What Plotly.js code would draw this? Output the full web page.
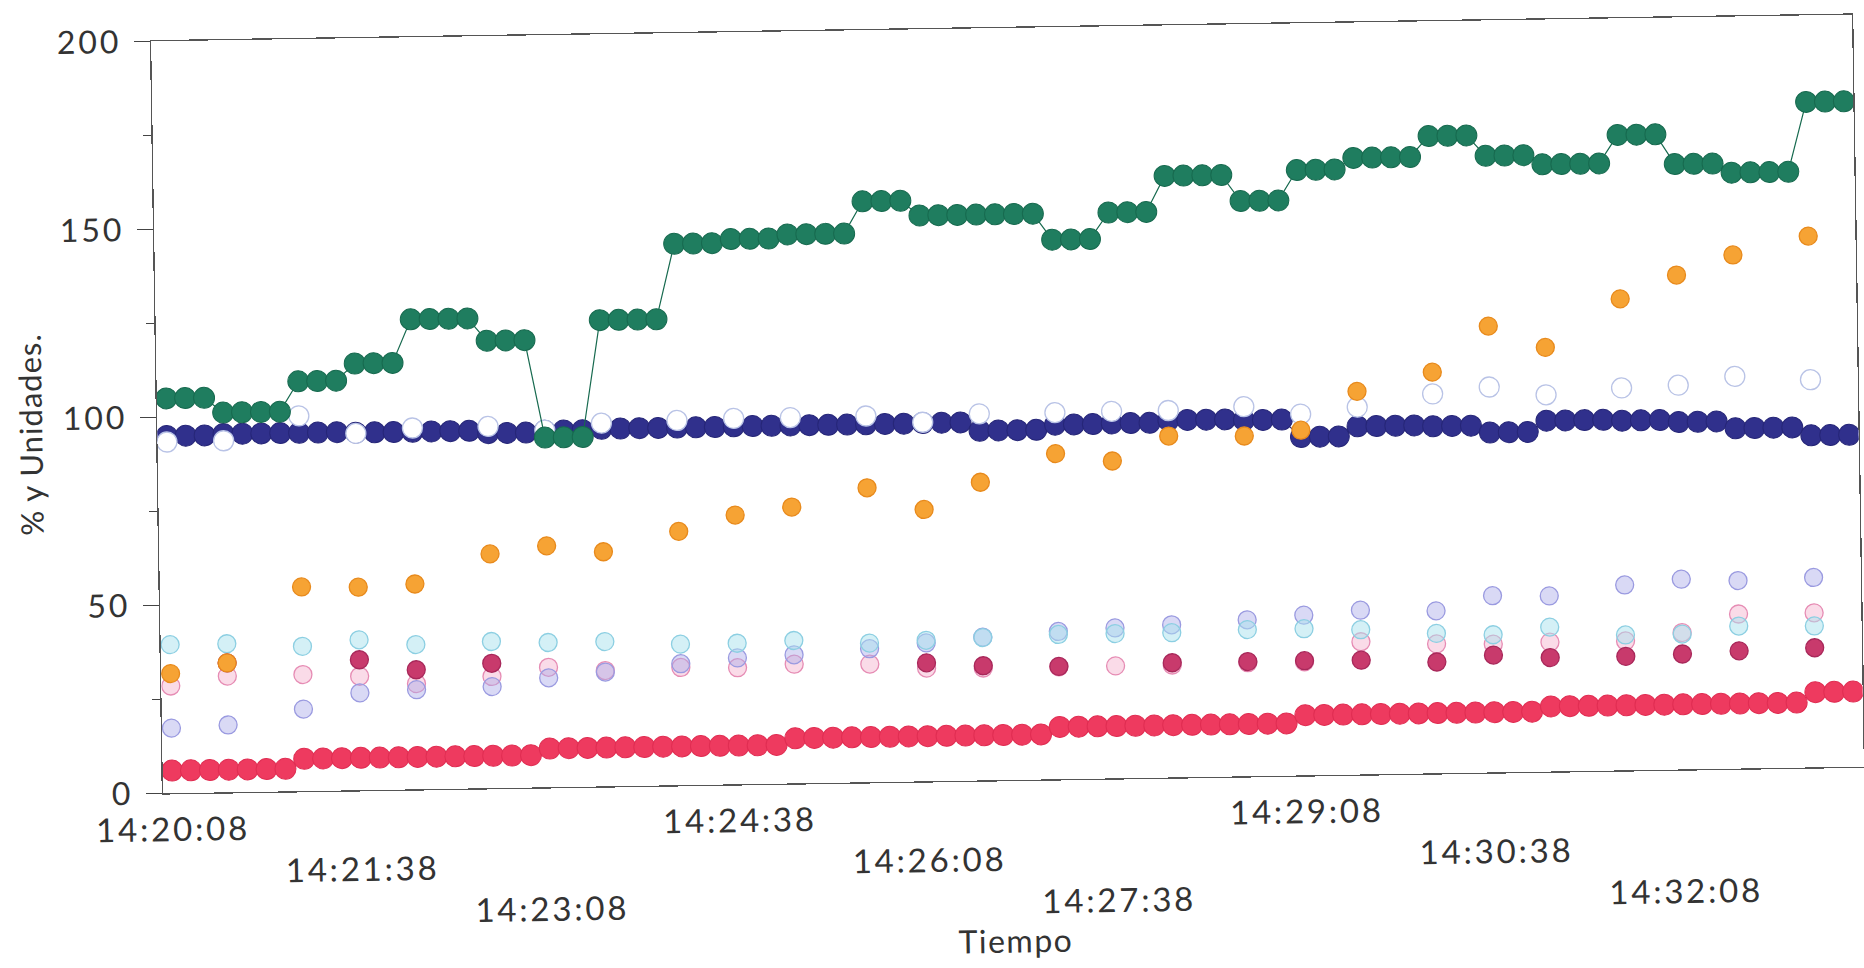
<!DOCTYPE html>
<html><head><meta charset="utf-8">
<script src="https://cdn.plot.ly/plotly-3.0.1.min.js"></script>
<style>
html,body{margin:0;padding:0;background:#fff;overflow:hidden}
#plot{width:1864px;height:968px;transform:rotate(-0.9deg);transform-origin:1007px 404px}
#plot .xtick text{letter-spacing:2.8px}
#plot .ytick text{letter-spacing:3px}
#plot .g-xtitle text{letter-spacing:1.5px}
#plot .annotation-text{letter-spacing:1px}
</style>
</head><body><div id="plot"></div><script>
// x tick labels (every 10th sample)
const tickLabels = ['14:20:08','14:21:38','14:23:08','14:24:38','14:26:08','14:27:38','14:29:08','14:30:38','14:32:08'];
const labelEvery = 10;

// dense series: one value per sample (90 samples)
const green = [105,105,105, 101,101,101,101, 109,109,109, 113.5,113.5,113.5, 125,125,125,125, 119,119,119, 93,93,93, 124,124,124,124,
  144,144,144, 145,145,145, 146,146,146,146, 154.5,154.5,154.5, 150.5,150.5,150.5, 150.5,150.5,150.5,150.5, 143.5,143.5,143.5,
  150.5,150.5,150.5, 160,160,160,160, 153,153,153, 161,161,161, 164,164,164,164, 169.5,169.5,169.5, 164,164,164,
  161.5,161.5,161.5,161.5, 169,169,169, 161,161,161, 158.5,158.5,158.5,158.5, 177,177,177];
const navy = [95,95,95, 95.3,95.3,95.3,95.3, 95.3,95.3,95.3, 95.1,95.1,95.1, 95.1,95.1,95.1,95.1, 94.4,94.4,94.4, 94.8,94.8,94.8,
  95.1,95.1,95.1,95.1, 95.1,95.1,95.1, 95.2,95.2,95.2, 95.2,95.2,95.2,95.2, 95.2,95.2,95.2, 95.3,95.3,95.3, 93,93,93,93,
  94.3,94.3,94.3, 94.4,94.4,94.4, 95,95,95,95, 94.7,94.7,94.7, 90,90,90, 92.6,92.6,92.6,92.6, 92.3,92.3,92.3, 90.4,90.4,90.4,
  93.3,93.3,93.3,93.3, 93,93,93, 92.4,92.4,92.4, 90.5,90.5,90.5,90.5, 88.3,88.3,88.3];
const red = [6,6,6,6,6,6,6, 8.6,8.6,8.6,8.6,8.6,8.6,8.6,8.6,8.6,8.6,8.6,8.6,8.6,
  10.3,10.3,10.3,10.3,10.3,10.3,10.3,10.3,10.3,10.3,10.3,10.3,10.3,
  12,12,12,12,12,12,12,12,12,12,12,12,12,12,
  13.9,13.9,13.9,13.9,13.9,13.9,13.9,13.9,13.9,13.9,13.9,13.9,13.9,
  16,16,16,16,16,16,16,16,16,16,16,16,16,
  17.3,17.3,17.3,17.3,17.3,17.3,17.3,17.3,17.3,17.3,17.3,17.3,17.3,17.3,
  20,20,20];

// sparse series: sampled every ~30 s at these sample indices
const sparseIdx = [0,3,7,10,13,17,20,23,27,30,33,37,40,43,47,50,53,57,60,63,67,70,73,77,80,83,87];
const orange = [31.8,34.4,54.3,54.0,54.6,62.3,64.2,62.4,67.5,71.6,73.5,78.3,72.3,79.3,86.6,84.4,90.8,90.5,91.8,101.9,106.7,118.7,112.8,125.4,131.5,136.6,141.3];
const pale = [93.4,93.5,99.8,94.9,96.1,96.2,95,96.6,97,97.3,97.3,97.4,95.5,97.5,97.5,97.6,97.6,98.3,96.1,97.7,100.9,102.5,100.2,101.7,102.2,104.3,103.1];
const cyan = [39.5,39.5,38.5,40,38.5,39,38.5,38.5,37.5,37.5,38,37,37.5,38,38.5,38.5,38.5,39,39,38.5,37.2,36.6,38.4,36,36,37.9,37.6];
const lavender = [17.3,17.9,21.8,25.9,26.5,27,29.1,30.4,32.3,33.6,34.2,35.5,36.8,38.1,39.3,40,40.6,41.6,42.6,43.7,43.2,47,46.7,49.3,50.6,50,50.5];
const pink = [28.5,30.9,31,30.3,28.1,29.7,31.9,30.8,31.3,31,31.7,31.4,30.1,29.9,29.9,29.9,29.9,30.2,30.2,35.3,34.4,34.1,34.4,34.4,36.4,41.1,41.1];
const magenta = [null,34.4,null,34.7,31.8,33.2,null,null,null,null,null,null,31.5,30.5,30,null,30.5,30.5,30.5,30.4,29.6,31.2,30.3,30.3,30.7,31.3,31.8];

const xDense = green.map((_, i) => i);
const tickVals = xDense;
const tickText = xDense.map(i => {
  if (i % labelEvery !== 0) return '';
  const j = i / labelEvery;
  if (j >= tickLabels.length) return '';
  return '<br>'.repeat(j % 3) + tickLabels[j];
});

function dense(y, fill, edge, size) {
  return {x: xDense, y: y, type: 'scatter', mode: 'lines+markers', showlegend: false, hoverinfo: 'skip',
    line: {color: edge, width: 1.2},
    marker: {symbol: 'circle', size: size, color: fill, line: {color: edge, width: 1}}};
}
function sparse(y, fill, edge, size) {
  return {x: sparseIdx, y: y, type: 'scatter', mode: 'markers', showlegend: false, hoverinfo: 'skip',
    marker: {symbol: 'circle', size: size, color: fill, line: {color: edge, width: 1.3}}};
}

const traces = [
  sparse(pink, 'rgba(246,190,214,0.55)', '#e68cb4', 18),
  sparse(lavender, 'rgba(170,170,232,0.45)', '#9a9ae0', 18),
  sparse(cyan, 'rgba(170,225,238,0.5)', '#8ccfe2', 18),
  sparse(magenta, '#c83a6c', '#a8285a', 18),
  dense(red, '#ee3a5f', '#e02d52', 21),
  dense(navy, '#30308c', '#262678', 21),
  sparse(pale, '#ffffff', '#b9c3e6', 20),
  dense(green, '#1f7d5f', '#176a4f', 21),
  sparse(orange, '#f6a334', '#e88a1c', 18)
];

const fontFam = 'Lato, "Open Sans", sans-serif';
const layout = {
  width: 1864, height: 968,
  margin: {l: 157, r: 6, t: 28, b: 188},
  paper_bgcolor: '#ffffff', plot_bgcolor: '#ffffff',
  font: {family: fontFam, color: '#333', size: 33},
  xaxis: {
    range: [-0.5, 89.5], tickmode: 'array', tickvals: tickVals, ticktext: tickText,
    ticks: '', ticklabelstandoff: 7,
    showgrid: false, zeroline: false, showline: true, linecolor: '#555', linewidth: 1.3, mirror: true,
    tickfont: {family: fontFam, size: 33, color: '#333'},
    title: {text: 'Tiempo', font: {family: fontFam, size: 32, color: '#333'}, standoff: 10}
  },
  xaxis2: {
    range: [-0.5, 89.5], overlaying: 'x', anchor: 'y', side: 'bottom', tickmode: 'linear', tick0: 0, dtick: 1,
    ticks: 'inside', ticklen: 16, tickwidth: 1.3, tickcolor: '#444', showticklabels: false,
    showgrid: false, zeroline: false, showline: false
  },
  xaxis3: {
    range: [-0.5, 89.5], overlaying: 'x', anchor: 'y', side: 'bottom', tickmode: 'linear', tick0: 0, dtick: 1,
    ticks: 'outside', ticklen: 12, tickwidth: 1.3, tickcolor: '#444', showticklabels: false,
    showgrid: false, zeroline: false, showline: false
  },
  yaxis: {
    range: [0, 200], tickmode: 'linear', tick0: 0, dtick: 50,
    ticks: 'outside', ticklen: 16, tickwidth: 1.3, tickcolor: '#444', ticklabelstandoff: 6,
    minor: {ticks: 'outside', ticklen: 8, dtick: 25, tickcolor: '#444', tickwidth: 1.2, showgrid: false},
    showgrid: false, zeroline: false, showline: true, linecolor: '#555', linewidth: 1.3, mirror: true,
    tickfont: {family: fontFam, size: 32, color: '#333'}
  },
  yaxis2: {
    range: [0, 200], overlaying: 'y', anchor: 'x', side: 'left', tickmode: 'linear', tick0: 0, dtick: 50,
    ticks: 'inside', ticklen: 16, tickwidth: 1.3, tickcolor: '#444', showticklabels: false,
    minor: {ticks: 'inside', ticklen: 8, dtick: 25, tickcolor: '#444', tickwidth: 1.2, showgrid: false},
    showgrid: false, zeroline: false, showline: false
  },
  annotations: [{
    text: '% y Unidades.', xref: 'paper', yref: 'paper', x: -0.0747, y: 0.48,
    xanchor: 'center', yanchor: 'middle', textangle: -90, showarrow: false,
    font: {family: fontFam, size: 31, color: '#333'}
  }]
};

Plotly.newPlot('plot', traces, layout, {displayModeBar: false, staticPlot: true});
</script></body></html>
